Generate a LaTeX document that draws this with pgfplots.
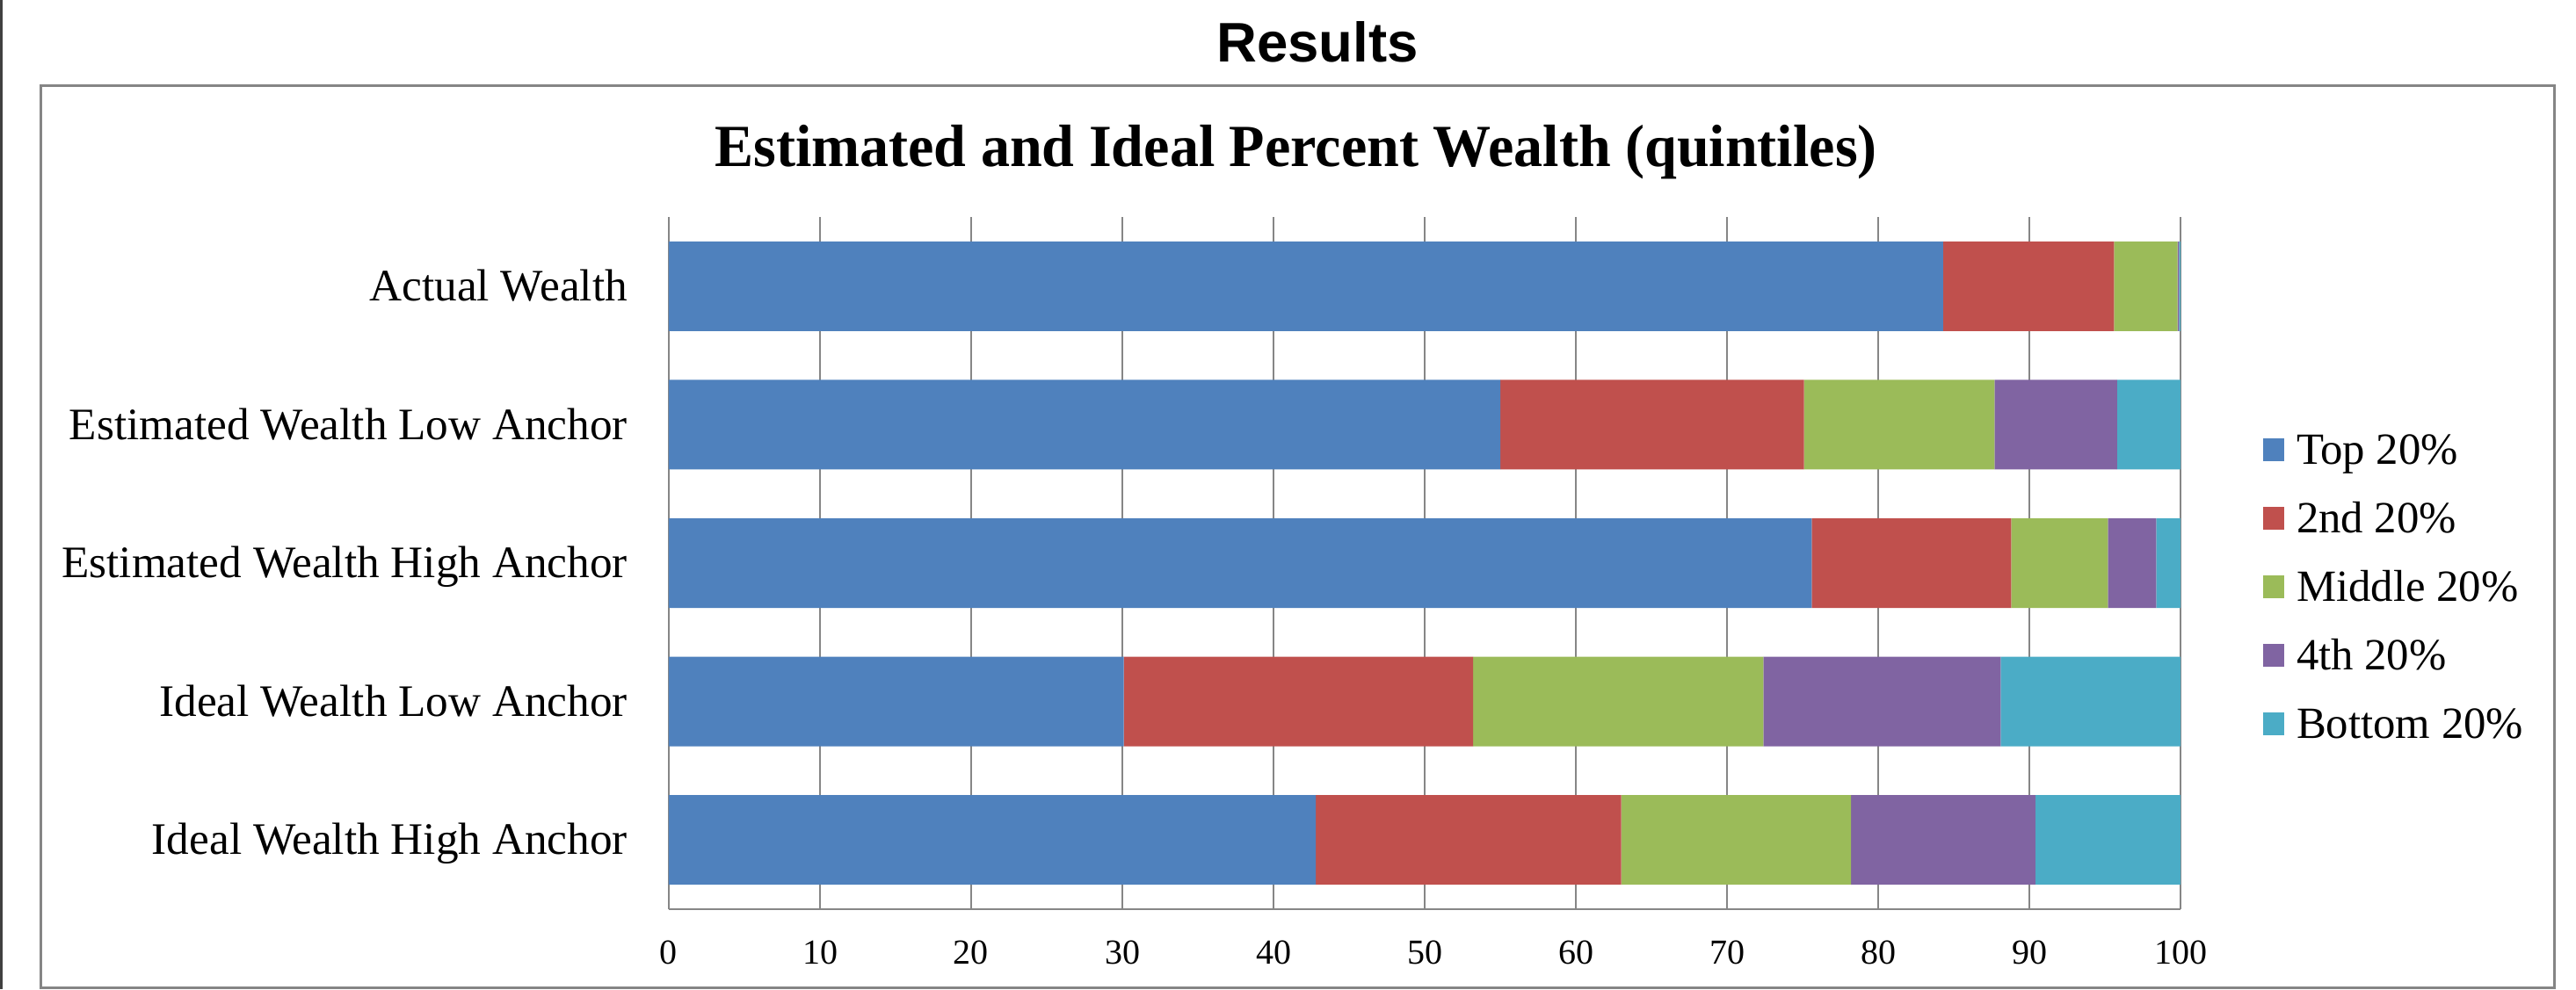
\documentclass[border=0pt]{standalone}
\usepackage{fontspec}
\setmainfont{Liberation Serif}
\newfontfamily\arialfont{Liberation Sans}
\usepackage{pgfplots}
\pgfplotsset{compat=1.18}
\definecolor{c1}{HTML}{4F81BD}
\definecolor{c2}{HTML}{C0504D}
\definecolor{c3}{HTML}{9BBB59}
\definecolor{c4}{HTML}{8064A2}
\definecolor{c5}{HTML}{4BACC6}
\definecolor{gridc}{HTML}{868686}
\definecolor{framec}{HTML}{858585}
\begin{document}
\begin{tikzpicture}[x=1pt,y=1pt]
\path[use as bounding box, fill=white] (0,0) rectangle (586.2,225.2);
\fill[black!75] (0,0) rectangle (0.6,225.2);
\draw[framec, line width=0.6pt] (9.3,0.4) rectangle (581.2,205.6);
\node[font=\arialfont\bfseries\fontsize{12.7}{14}\selectfont, anchor=base, inner sep=0pt] at (299.8,211) {Results};
\node[font=\bfseries\fontsize{13.6}{16}\selectfont, anchor=base, inner sep=0pt, xscale=0.972] at (294.9,187.3) {Estimated and Ideal Percent Wealth (quintiles)};
\begin{axis}[
  at={(152.2pt,18.2pt)}, anchor=south west,
  scale only axis, width=344pt, height=157.6pt,
  xmin=0, xmax=100, ymin=-0.5, ymax=4.5,
  xbar stacked, bar width=0.647,
  ytick={0,1,2,3,4},
  yticklabels={Ideal Wealth High Anchor, Ideal Wealth Low Anchor, Estimated Wealth High Anchor, Estimated Wealth Low Anchor, Actual Wealth},
  xtick={0,10,...,100},
  major tick length=0pt,
  axis x line*=bottom, axis y line*=left,
  x axis line style={draw=gridc, line width=0.5pt},
  y axis line style={draw=gridc, line width=0.35pt},
  xmajorgrids, major grid style={draw=gridc, line width=0.35pt},
  /pgf/number format/assume math mode=true,
  xticklabel style={font=\fontsize{8}{9.6}\selectfont, text height=5.4pt, text depth=0pt, yshift=-3.5pt},
  yticklabel style={font=\fontsize{10.25}{12}\selectfont, text height=6.7pt, text depth=0pt, xshift=-5.9pt},
  legend style={at={(1.0541,0.466)}, anchor=west, draw=none, fill=none, inner sep=0pt,
    row sep=8.9pt, column sep=2.8pt, font=\fontsize{10.15}{12}\selectfont,
    nodes={inner sep=0pt, text height=6.7pt, text depth=0pt}},
  legend cell align=left,
  legend image code/.code={\fill[#1] (0pt,-2.6pt) rectangle (4.8pt,2.6pt);},
]
\addplot[fill=c1, draw=none] coordinates {(42.8,0) (30.1,1) (75.6,2) (55.0,3) (84.3,4)};
\addplot[fill=c2, draw=none] coordinates {(20.2,0) (23.1,1) (13.2,2) (20.1,3) (11.3,4)};
\addplot[fill=c3, draw=none] coordinates {(15.2,0) (19.2,1) (6.4,2) (12.6,3) (4.2,4)};
\addplot[fill=c4, draw=none] coordinates {(12.2,0) (15.7,1) (3.2,2) (8.1,3) (0.1,4)};
\addplot[fill=c5, draw=none] coordinates {(9.6,0) (11.9,1) (1.6,2) (4.2,3) (0.1,4)};
\legend{Top 20\%, 2nd 20\%, Middle 20\%, 4th 20\%, Bottom 20\%}
\end{axis}
\end{tikzpicture}
\end{document}
